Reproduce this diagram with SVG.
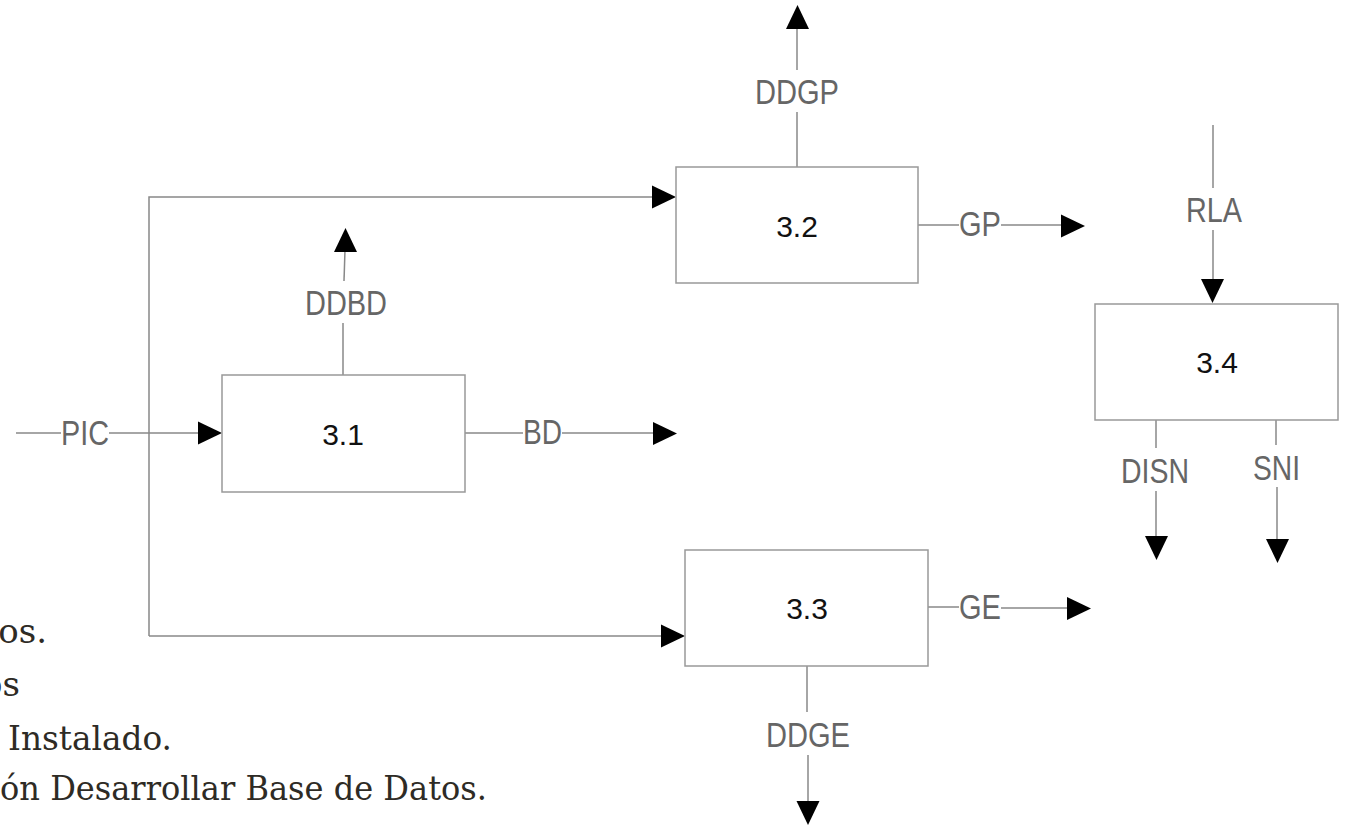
<svg xmlns="http://www.w3.org/2000/svg" xmlns:xlink="http://www.w3.org/1999/xlink" width="1351" height="829" viewBox="0 0 1351 829">
<style>
.box{fill:#fff;stroke:#999;stroke-width:1.5}
.num{font-family:"Liberation Sans",Arial,sans-serif;font-size:30px;fill:#111;text-anchor:middle}
.lbl{font-family:"Liberation Sans",Arial,sans-serif;font-size:35px;fill:#666;text-anchor:middle}
.ln{stroke:#888;stroke-width:1.5;fill:none}
.ah{fill:#000}
.body{font-family:"DejaVu Serif","Liberation Serif",serif;font-size:34px;fill:#2e2b25}
</style>
<defs>
<path id="ah" d="M0,0 L-24,-11.5 L-24,11.5 Z"/>
</defs>
<rect width="1351" height="829" fill="#fff"/>
<g id="page-text">
<text class="body" x="47" y="643" text-anchor="end">tos.</text>
<text class="body" x="20" y="696" text-anchor="end">os</text>
<text class="body" x="8" y="750" textLength="164" lengthAdjust="spacingAndGlyphs">Instalado.</text>
<text class="body" x="0" y="800" textLength="487" lengthAdjust="spacingAndGlyphs">ón Desarrollar Base de Datos.</text>
</g>
<g id="connectors">
<line class="ln" x1="16" y1="433" x2="61" y2="433"/>
<line class="ln" x1="109" y1="433" x2="200" y2="433"/>
<use xlink:href="#ah" class="ah" transform="translate(222,433)"/>
<text class="lbl" x="85" y="445" textLength="48" lengthAdjust="spacingAndGlyphs">PIC</text>

<polyline class="ln" points="149,636 149,197 654,197"/>
<use xlink:href="#ah" class="ah" transform="translate(676,197)"/>
<line class="ln" x1="149" y1="636" x2="663" y2="636"/>
<use xlink:href="#ah" class="ah" transform="translate(685,636)"/>

<line class="ln" x1="343" y1="375" x2="343" y2="323"/>
<line class="ln" x1="344" y1="281" x2="345" y2="250"/>
<use xlink:href="#ah" class="ah" transform="translate(345.5,228) rotate(-90)"/>
<text class="lbl" x="346" y="315" textLength="82" lengthAdjust="spacingAndGlyphs">DDBD</text>

<line class="ln" x1="465" y1="433" x2="523" y2="433"/>
<line class="ln" x1="562" y1="433" x2="655" y2="433"/>
<use xlink:href="#ah" class="ah" transform="translate(677,433.5)"/>
<text class="lbl" x="542.5" y="444" textLength="39" lengthAdjust="spacingAndGlyphs">BD</text>

<line class="ln" x1="797" y1="167" x2="797" y2="112"/>
<line class="ln" x1="797" y1="70" x2="797" y2="27"/>
<use xlink:href="#ah" class="ah" transform="translate(797.5,5) rotate(-90)"/>
<text class="lbl" x="797" y="104" textLength="84" lengthAdjust="spacingAndGlyphs">DDGP</text>

<line class="ln" x1="918" y1="225" x2="959" y2="225"/>
<line class="ln" x1="1001" y1="225" x2="1063" y2="225"/>
<use xlink:href="#ah" class="ah" transform="translate(1085,226)"/>
<text class="lbl" x="980" y="236" textLength="42" lengthAdjust="spacingAndGlyphs">GP</text>

<line class="ln" x1="1213" y1="125" x2="1213" y2="188"/>
<line class="ln" x1="1213" y1="230" x2="1213" y2="281"/>
<use xlink:href="#ah" class="ah" transform="translate(1212.5,303) rotate(90)"/>
<text class="lbl" x="1214" y="222" textLength="56" lengthAdjust="spacingAndGlyphs">RLA</text>

<line class="ln" x1="1156" y1="420" x2="1156" y2="448"/>
<line class="ln" x1="1156" y1="491" x2="1156" y2="538"/>
<use xlink:href="#ah" class="ah" transform="translate(1156.5,560) rotate(90)"/>
<text class="lbl" x="1155" y="483" textLength="68" lengthAdjust="spacingAndGlyphs">DISN</text>

<line class="ln" x1="1276" y1="420" x2="1276" y2="445"/>
<line class="ln" x1="1277" y1="487" x2="1277" y2="541"/>
<use xlink:href="#ah" class="ah" transform="translate(1277.5,563) rotate(90)"/>
<text class="lbl" x="1276.5" y="480" textLength="47" lengthAdjust="spacingAndGlyphs">SNI</text>

<line class="ln" x1="928" y1="607" x2="959" y2="607"/>
<line class="ln" x1="1001" y1="608" x2="1069" y2="608"/>
<use xlink:href="#ah" class="ah" transform="translate(1091,608.5)"/>
<text class="lbl" x="980" y="619" textLength="42" lengthAdjust="spacingAndGlyphs">GE</text>

<line class="ln" x1="807" y1="666" x2="807" y2="712"/>
<line class="ln" x1="808" y1="755" x2="808" y2="803"/>
<use xlink:href="#ah" class="ah" transform="translate(808,825) rotate(90)"/>
<text class="lbl" x="808" y="747" textLength="84" lengthAdjust="spacingAndGlyphs">DDGE</text>
</g>
<g id="node-3-1">
<rect class="box" x="222" y="375" width="243" height="117"/>
<text class="num" x="343" y="445">3.1</text>
</g>
<g id="node-3-2">
<rect class="box" x="676" y="167" width="242" height="116"/>
<text class="num" x="797" y="237">3.2</text>
</g>
<g id="node-3-3">
<rect class="box" x="685" y="550" width="243" height="116"/>
<text class="num" x="807" y="619">3.3</text>
</g>
<g id="node-3-4">
<rect class="box" x="1095" y="304" width="243" height="116"/>
<text class="num" x="1217" y="373">3.4</text>
</g>
</svg>
